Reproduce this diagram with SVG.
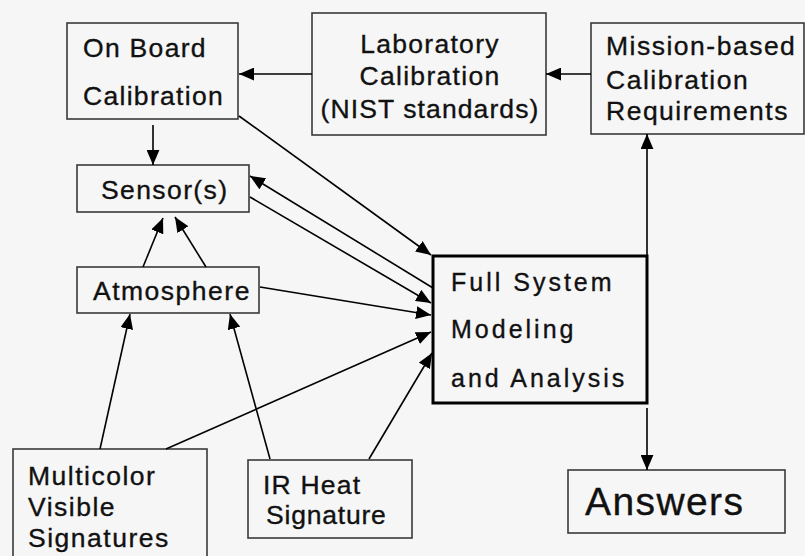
<svg xmlns="http://www.w3.org/2000/svg" width="805" height="556" viewBox="0 0 805 556">
<defs>
<marker id="ah" viewBox="0 0 14 12" refX="14" refY="6" markerWidth="15" markerHeight="13" markerUnits="userSpaceOnUse" orient="auto"><path d="M0,0 L14,6 L0,12 z" fill="#000"/></marker>
</defs>
<style>
.box{fill:none;stroke:#3a3a3a;stroke-width:1.6}
.bold{fill:none;stroke:#000;stroke-width:3}
.t{font-family:"Liberation Sans",Arial,sans-serif;font-size:26.5px;letter-spacing:1.3px;fill:#111;stroke:#111;stroke-width:0.35}
.fs{font-size:25px;letter-spacing:3px}
.big{font-size:39px;letter-spacing:1.4px}
.c line{stroke:#000;stroke-width:1.6;marker-end:url(#ah)}
</style>
<rect width="805" height="556" fill="#f6f6f6"/>
<g id="onboard">
<rect class="box" x="67" y="23" width="171" height="96"/>
<text class="t" x="83" y="57">On Board</text>
<text class="t" x="83" y="105">Calibration</text>
</g>
<g id="laboratory">
<rect class="box" x="312" y="13" width="234" height="122"/>
<text class="t" x="430" y="53" text-anchor="middle">Laboratory</text>
<text class="t" x="430" y="85" text-anchor="middle">Calibration</text>
<text class="t" x="430" y="118" text-anchor="middle" style="letter-spacing:1.1px">(NIST standards)</text>
</g>
<g id="mission">
<rect class="box" x="591" y="23" width="213" height="111"/>
<text class="t" x="606" y="55" style="letter-spacing:1.5px">Mission-based</text>
<text class="t" x="606" y="89" style="letter-spacing:1.5px">Calibration</text>
<text class="t" x="606" y="120" style="letter-spacing:1.5px">Requirements</text>
</g>
<g id="sensor">
<rect class="box" x="77" y="165" width="172" height="47"/>
<text class="t" x="101" y="199" style="letter-spacing:1.4px">Sensor(s)</text>
</g>
<g id="atmosphere">
<rect class="box" x="77" y="267" width="182" height="46"/>
<text class="t" x="93" y="300" style="letter-spacing:1.5px">Atmosphere</text>
</g>
<g id="fullsystem">
<rect class="bold" x="433" y="256" width="214" height="147"/>
<text class="t fs" x="451" y="291">Full System</text>
<text class="t fs" x="451" y="338">Modeling</text>
<text class="t fs" x="451" y="387">and Analysis</text>
</g>
<g id="answers">
<rect class="box" x="568" y="470" width="217" height="63"/>
<text class="t big" x="585" y="515">Answers</text>
</g>
<g id="multicolor">
<rect class="box" x="13" y="449" width="194" height="115"/>
<text class="t" x="28" y="485" style="letter-spacing:1.5px">Multicolor</text>
<text class="t" x="28" y="516" style="letter-spacing:1.5px">Visible</text>
<text class="t" x="28" y="547" style="letter-spacing:1.5px">Signatures</text>
</g>
<g id="irheat">
<rect class="box" x="248" y="460" width="164" height="78"/>
<text class="t" x="263" y="494" style="letter-spacing:1.2px">IR Heat</text>
<text class="t" x="266" y="524" style="letter-spacing:0.8px">Signature</text>
</g>
<g class="c" id="connectors">
<line x1="312" y1="74" x2="239" y2="74"/>
<line x1="591" y1="74" x2="546" y2="74"/>
<line x1="153" y1="125" x2="153" y2="165"/>
<line x1="239" y1="116" x2="431" y2="255"/>
<line x1="433" y1="288" x2="250" y2="176"/>
<line x1="250" y1="197" x2="431" y2="303"/>
<line x1="260" y1="287" x2="431" y2="315"/>
<line x1="166" y1="449" x2="431" y2="332"/>
<line x1="369" y1="459" x2="432" y2="353"/>
<line x1="143" y1="267" x2="163" y2="218"/>
<line x1="206" y1="267" x2="175" y2="217"/>
<line x1="100" y1="449" x2="130" y2="314"/>
<line x1="270" y1="459" x2="230" y2="314"/>
<line x1="647" y1="256" x2="647" y2="134"/>
<line x1="647" y1="408" x2="647" y2="470"/>
</g>
</svg>
